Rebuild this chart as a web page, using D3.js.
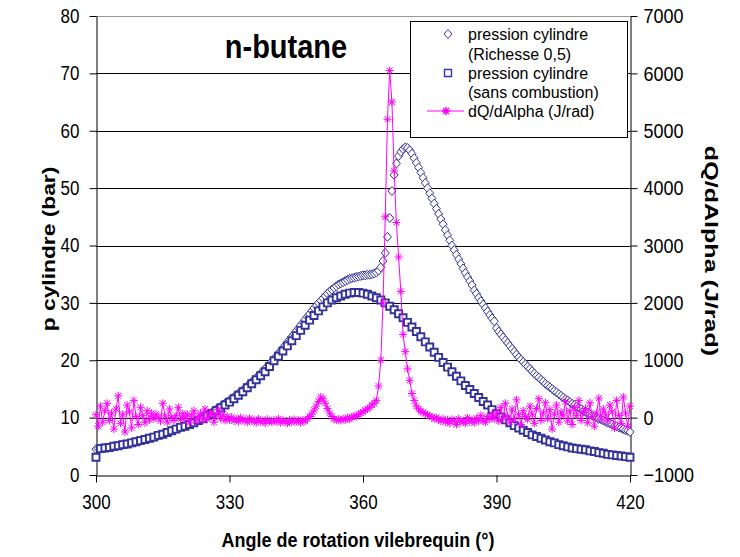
<!DOCTYPE html>
<html>
<head>
<meta charset="utf-8">
<script src="https://cdn.jsdelivr.net/npm/d3@7"></script>
<style>
  body { margin: 0; background: #fff; }
  svg text { font-family: "Liberation Sans", Arial, sans-serif; }
  .tall { transform-box: fill-box; transform-origin: center; transform: scaleY(1.15); }
</style>
</head>
<body>
<svg id="chart" width="740" height="557"></svg>
<script>
// Axis ticks
const xTicks = [300, 330, 360, 390, 420];
const leftTicks = [0, 10, 20, 30, 40, 50, 60, 70, 80];
const rightTicks = [-1000, 0, 1000, 2000, 3000, 4000, 5000, 6000, 7000];

// Sans combustion (bar), one value per degree from 300 to 420
const angleStartSq = 300, angleStepSq = 1;
const pressureMotored = [
    3.1, 4.6, 4.7, 4.8, 5.0, 5.1, 5.3, 5.4, 5.6, 5.8,
    6.0, 6.2, 6.4, 6.6, 6.9, 7.1, 7.4, 7.7, 8.0, 8.3,
    8.5, 8.8, 9.1, 9.5, 9.8, 10.3, 10.7, 11.2, 11.7, 12.2,
    12.7, 13.3, 13.9, 14.5, 15.2, 15.9, 16.6, 17.3, 18.0, 18.9,
    19.9, 20.7, 21.6, 22.5, 23.4, 24.3, 25.2, 26.1, 27.0, 27.8,
    28.6, 29.3, 30.0, 30.5, 30.9, 31.2, 31.5, 31.7, 31.8, 31.8,
    31.7, 31.5, 31.2, 30.9, 30.5, 30.0, 29.4, 28.8, 28.1, 27.4,
    26.6, 25.8, 25.0, 24.1, 23.2, 22.3, 21.4, 20.5, 19.6, 18.8,
    18.0, 17.2, 16.4, 15.6, 14.9, 14.2, 13.5, 12.8, 12.2, 11.4,
    10.7, 10.1, 9.6, 9.1, 8.6, 8.2, 7.8, 7.4, 7.0, 6.7,
    6.4, 6.1, 5.8, 5.6, 5.3, 5.1, 4.9, 4.7, 4.6, 4.5,
    4.4, 4.2, 4.1, 3.9, 3.8, 3.6, 3.5, 3.4, 3.3, 3.2,
    3.1
];

// Richesse 0,5 (bar) and dQ/dAlpha (J/rad), every half degree from 300 to 420
const angleStart = 300, angleStep = 0.5;
const pressureRich = [
    4.5, 4.6, 4.6, 4.7, 4.7, 4.8, 4.8, 4.9, 5.0, 5.0,
    5.1, 5.2, 5.3, 5.3, 5.4, 5.5, 5.6, 5.7, 5.8, 5.9,
    6.0, 6.1, 6.2, 6.3, 6.4, 6.5, 6.6, 6.7, 6.9, 7.0,
    7.1, 7.3, 7.4, 7.6, 7.7, 7.9, 8.0, 8.2, 8.3, 8.5,
    8.6, 8.8, 9.0, 9.1, 9.3, 9.5, 9.7, 9.9, 10.1, 10.3,
    10.5, 10.7, 10.9, 11.2, 11.4, 11.7, 11.9, 12.2, 12.5, 12.7,
    13.0, 13.3, 13.6, 13.9, 14.2, 14.5, 14.8, 15.1, 15.5, 15.8,
    16.2, 16.5, 16.9, 17.3, 17.7, 18.1, 18.5, 18.9, 19.3, 19.8,
    20.2, 20.7, 21.2, 21.6, 22.1, 22.6, 23.1, 23.6, 24.1, 24.6,
    25.1, 25.6, 26.1, 26.6, 27.1, 27.6, 28.1, 28.6, 29.1, 29.5,
    30.0, 30.4, 30.8, 31.2, 31.6, 32.0, 32.3, 32.6, 32.9, 33.2,
    33.4, 33.6, 33.8, 34.0, 34.2, 34.3, 34.4, 34.5, 34.6, 34.7,
    34.8, 34.8, 34.9, 34.9, 35.0, 35.1, 35.3, 35.6, 36.2, 37.3,
    38.7, 41.5, 44.8, 49.5, 52.3, 54.3, 55.6, 56.3, 56.8, 57.1,
    57.0, 56.6, 56.0, 55.2, 54.4, 53.6, 52.7, 51.8, 50.9, 50.0,
    49.1, 48.2, 47.3, 46.4, 45.5, 44.6, 43.7, 42.7, 41.8, 40.9,
    40.0, 39.2, 38.4, 37.6, 36.8, 36.0, 35.2, 34.5, 33.8, 33.1,
    32.2, 31.6, 30.9, 30.3, 29.7, 29.1, 28.5, 27.9, 27.3, 26.8,
    25.6, 25.0, 24.5, 24.0, 23.5, 23.0, 22.5, 22.0, 21.5, 21.0,
    20.5, 20.1, 19.7, 19.3, 18.9, 18.5, 18.1, 17.7, 17.3, 17.0,
    16.6, 16.3, 15.9, 15.6, 15.3, 15.0, 14.7, 14.4, 14.1, 13.8,
    13.5, 13.2, 13.0, 12.7, 12.4, 12.2, 11.9, 11.7, 11.5, 11.2,
    11.0, 10.8, 10.6, 10.4, 10.2, 10.0, 9.8, 9.7, 9.5, 9.3,
    9.1, 9.0, 8.8, 8.6, 8.5, 8.3, 8.2, 8.0, 7.8, 7.7,
    7.5
];
const heatRelease = [
    50, -150, 200, -80, 120, 250, -50, 80, -200, 150,
    380, -100, 60, -250, 220, 100, -180, 300, 20, -120,
    180, 40, -90, 120, -40, 80, -20, 60, 10, -60,
    250, 30, -80, 150, 0, -50, 40, 180, -30, 70,
    -20, 60, -90, 30, 120, -60, 20, 80, -40, 150,
    -30, 50, 90, -80, 30, 140, -20, 60, -50, 20,
    -40, 10, -60, -20, -70, 0, -50, -30, -80, -10,
    -60, -40, -90, -20, -70, -50, -100, -30, -60, -80,
    -40, -70, -20, -90, -50, -60, -100, -40, -80, -30,
    -70, -50, -90, -40, -60, -20, 20, 60, 130, 200,
    280, 360, 330, 250, 160, 80, 20, -20, -40, -30,
    -50, -20, -40, 0, -30, 10, 30, 20, 60, 80,
    100, 130, 150, 180, 220, 250, 300, 550, 1000, 2000,
    3500, 5200, 6050, 5500, 4300, 3400, 2800, 2200, 1450, 1150,
    850, 650, 420, 300, 200, 150, 110, 90, 70, 50,
    30, 10, -20, 0, -40, -60, -20, -80, -40, -100,
    -30, -60, -120, -20, -80, -50, -100, 0, -70, -40,
    -90, -10, -60, 40, -50, -80, 20, -30, 60, -20,
    100, -60, 180, -20, 250, 30, -80, 150, -40, 310,
    50, -120, 120, 20, -30, 200, 60, -100, 160, 330,
    -50, 80, 260, -20, 140, -200, 60, 220, -80, 100,
    30, 280, -60, 120, -120, 180, 40, 300, -50, 90,
    160, -90, 260, 20, -150, 80, 340, -30, 150, 60,
    -60, 220, 100, -180, 300, 40, -100, 360, 80, -150,
    200
];

const seriesNames = ["pression cylindre", "(Richesse 0,5)", "pression cylindre", "(sans combustion)", "dQ/dAlpha (J/rad)"];

const dimensions = {
    width: 740,
    height: 557,
    left: 96, right: 630, top: 16, bottom: 475
};

const navy = "#333399";
const magenta = "#ff00ff";

const svg = d3.select("#chart");

const xScale = d3.scaleLinear().domain([300, 420]).range([dimensions.left, dimensions.right]);
const yLeft = d3.scaleLinear().domain([0, 80]).range([dimensions.bottom, dimensions.top]);
const yRight = d3.scaleLinear().domain([-1000, 7000]).range([dimensions.bottom, dimensions.top]);

// Horizontal grid lines
svg.append("g")
    .selectAll("line")
    .data(leftTicks.filter(d => d > 0))
    .join("line")
    .attr("x1", dimensions.left)
    .attr("x2", dimensions.right)
    .attr("y1", d => Math.round(yLeft(d)) + 0.5)
    .attr("y2", d => Math.round(yLeft(d)) + 0.5)
    .attr("stroke", d => d === 80 ? "#999" : "#000")
    .attr("stroke-width", 1);

// Axes
const axisFont = size => g => g.selectAll("text")
    .attr("class", "tall")
    .style("font-size", size)
    .attr("fill", "#000");

svg.append("g")
    .attr("transform", `translate(${dimensions.left + 0.5},0)`)
    .call(d3.axisLeft(yLeft).tickValues(leftTicks).tickSize(7).tickSizeOuter(0).tickPadding(10))
    .call(axisFont("17px"))
    .call(g => g.select(".domain").attr("stroke", "#000"));

svg.append("g")
    .attr("transform", `translate(${dimensions.right + 0.5},0)`)
    .call(d3.axisRight(yRight).tickValues(rightTicks).tickSize(7).tickSizeOuter(0).tickPadding(6).tickFormat(d3.format("d")))
    .call(axisFont("18px"));

svg.append("g")
    .attr("transform", `translate(0,${dimensions.bottom + 0.5})`)
    .call(d3.axisBottom(xScale).tickValues(xTicks).tickSize(7).tickSizeOuter(0).tickPadding(14))
    .call(axisFont("17px"));

// Series: diamonds (combustion)
const diamond = "M0,-4.5L4,0L0,4.5L-4,0Z";
const square = "M-3.5,-3.5H3.5V3.5H-3.5Z";
const star = "M-3,-3L3,3M-3,3L3,-3M0,-4V4M-4,0H4";

svg.append("g")
    .selectAll("path")
    .data(pressureRich)
    .join("path")
    .attr("d", diamond)
    .attr("transform", (d, i) => `translate(${xScale(angleStart + i * angleStep)},${yLeft(d)})`)
    .attr("fill", "#fff")
    .attr("stroke", navy)
    .attr("stroke-width", 1);

// Series: squares (motored)
svg.append("g")
    .selectAll("path")
    .data(pressureMotored)
    .join("path")
    .attr("d", square)
    .attr("transform", (d, i) => `translate(${xScale(angleStartSq + i * angleStepSq)},${yLeft(d)})`)
    .attr("fill", "#fff")
    .attr("stroke", navy)
    .attr("stroke-width", 1.9);

// Series: heat release
const line = d3.line()
    .x((d, i) => xScale(angleStart + i * angleStep))
    .y(d => yRight(d));

svg.append("path")
    .datum(heatRelease)
    .attr("d", line)
    .attr("fill", "none")
    .attr("stroke", magenta)
    .attr("stroke-width", 1);

svg.append("g")
    .selectAll("path")
    .data(heatRelease)
    .join("path")
    .attr("d", star)
    .attr("transform", (d, i) => `translate(${xScale(angleStart + i * angleStep)},${yRight(d)})`)
    .attr("fill", "none")
    .attr("stroke", magenta)
    .attr("stroke-width", 1);

// Title
svg.append("text")
    .attr("class", "tall")
    .attr("x", 286)
    .attr("y", 57)
    .attr("text-anchor", "middle")
    .style("font-size", "29px")
    .style("font-weight", "bold")
    .text("n-butane");

// Axis titles
svg.append("text")
    .attr("class", "tall")
    .attr("x", 358)
    .attr("y", 546)
    .attr("text-anchor", "middle")
    .style("font-size", "18px")
    .style("font-weight", "bold")
    .text("Angle de rotation vilebrequin (°)");

svg.append("text")
    .attr("transform", "translate(55,249) rotate(-90) scale(1.2,1)")
    .attr("text-anchor", "middle")
    .style("font-size", "19px")
    .style("font-weight", "bold")
    .text("p cylindre (bar)");

svg.append("text")
    .attr("transform", "translate(705,251) rotate(90) scale(1.32,1)")
    .attr("text-anchor", "middle")
    .style("font-size", "19px")
    .style("font-weight", "bold")
    .text("dQ/dAlpha (J/rad)");

// Legend
const legend = svg.append("g");
legend.append("rect")
    .attr("x", 410.5)
    .attr("y", 21.5)
    .attr("width", 217)
    .attr("height", 116)
    .attr("fill", "#fff")
    .attr("stroke", "#000");

const legendRows = [34, 54, 73, 92, 111];
legend.selectAll("text")
    .data(seriesNames)
    .join("text")
    .attr("x", 468)
    .attr("y", (d, i) => legendRows[i] + 6)
    .style("font-size", "16px")
    .text(d => d);

legend.append("path")
    .attr("d", diamond)
    .attr("transform", `translate(448,${legendRows[0]})`)
    .attr("fill", "#fff")
    .attr("stroke", "#3333cc");
legend.append("path")
    .attr("d", square)
    .attr("transform", `translate(448,${legendRows[2]})`)
    .attr("fill", "#fff")
    .attr("stroke", "#3333cc")
    .attr("stroke-width", 1.4);
legend.append("line")
    .attr("x1", 427).attr("x2", 464)
    .attr("y1", legendRows[4]).attr("y2", legendRows[4])
    .attr("stroke", magenta);
legend.append("path")
    .attr("d", star)
    .attr("transform", `translate(446,${legendRows[4]})`)
    .attr("stroke", magenta)
    .attr("stroke-width", 1.5);
</script>
</body>
</html>
